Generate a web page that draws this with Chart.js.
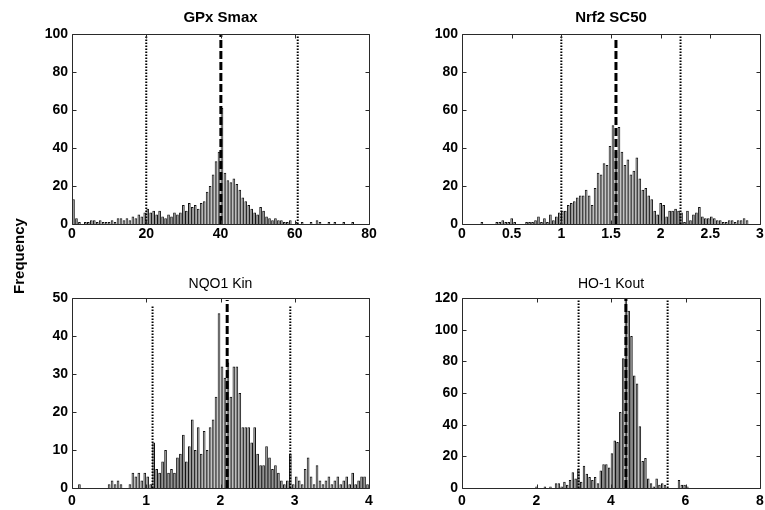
<!DOCTYPE html>
<html>
<head>
<meta charset="utf-8">
<script src="https://cdn.jsdelivr.net/npm/chart.js@4.4.0/dist/chart.umd.min.js"></script>
<style>
  body { margin: 0; background: #fff; }
  #wrap { position: relative; width: 765px; height: 510px; overflow: hidden; }
  canvas { position: absolute; }
  #ylab {
    position: absolute; left: -30px; top: 246px; width: 100px; height: 20px;
    line-height: 20px; text-align: center; transform: rotate(-90deg);
    font: bold 15px "Liberation Sans", Arial, sans-serif; color: #000;
  }
</style>
</head>
<body>
<div id="wrap">
  <canvas id="gpx" width="382" height="255" style="left:0;top:0"></canvas>
  <canvas id="nrf2" width="383" height="255" style="left:382px;top:0"></canvas>
  <canvas id="nqo1" width="382" height="255" style="left:0;top:255px"></canvas>
  <canvas id="ho1" width="383" height="255" style="left:382px;top:255px"></canvas>
  <div id="ylab">Frequency</div>
</div>
<script>
// GPx Smax histogram
const gpxBins = [
  0.4, 1.2, 2, 2.8, 3.6, 4.4, 5.2, 6, 6.8, 7.6,
  8.4, 9.2, 10, 10.8, 11.6, 12.4, 13.2, 14, 14.8, 15.6,
  16.4, 17.2, 18, 18.8, 19.6, 20.4, 21.2, 22, 22.8, 23.6,
  24.4, 25.2, 26, 26.8, 27.6, 28.4, 29.2, 30, 30.8, 31.6,
  32.4, 33.2, 34, 34.8, 35.6, 36.4, 37.2, 38, 38.8, 39.6,
  40.4, 41.2, 42, 42.8, 43.6, 44.4, 45.2, 46, 46.8, 47.6,
  48.4, 49.2, 50, 50.8, 51.6, 52.4, 53.2, 54, 54.8, 55.6,
  56.4, 57.2, 58, 58.8, 59.6, 60.4, 61.2, 62, 62.8, 63.6,
  64.4, 65.2, 66, 66.8, 67.6, 68.4, 69.2, 70, 70.8, 71.6,
  72.4, 73.2, 74, 74.8, 75.6, 76.4, 77.2, 78, 78.8, 79.6
];
const gpxCounts = [
  13, 3, 1, 0, 1, 1, 2, 2, 1, 2,
  1, 1, 1, 2, 1, 3, 3, 2, 3, 2,
  4, 3, 5, 4, 6, 8, 6, 7, 5, 7,
  4, 3, 5, 4, 6, 5, 6, 10, 7, 11,
  9, 10, 8, 11, 12, 17, 20, 26, 33, 38,
  61, 27, 23, 22, 24, 21, 18, 14, 12, 10,
  8, 6, 5, 9, 7, 4, 3, 2, 3, 2,
  2, 1, 1, 2, 0, 1, 0, 1, 0, 0,
  1, 0, 2, 1, 0, 0, 1, 0, 1, 0,
  0, 1, 0, 0, 1, 0, 0, 0, 0, 0
];
const gpxXTicks = [0, 20, 40, 60, 80];
const gpxYTicks = [0, 20, 40, 60, 80, 100];
const gpxMedian = 40.1;
const gpxBounds = [20, 60.8];

// Nrf2 SC50 histogram
const nrf2Bins = [
  0.02, 0.05, 0.08, 0.11, 0.14, 0.17, 0.2, 0.23, 0.26, 0.29,
  0.32, 0.35, 0.38, 0.41, 0.44, 0.47, 0.5, 0.53, 0.56, 0.59,
  0.62, 0.65, 0.68, 0.71, 0.74, 0.77, 0.8, 0.83, 0.86, 0.89,
  0.92, 0.95, 0.98, 1.01, 1.04, 1.07, 1.1, 1.13, 1.16, 1.19,
  1.22, 1.25, 1.28, 1.31, 1.34, 1.37, 1.4, 1.43, 1.46, 1.49,
  1.52, 1.55, 1.58, 1.61, 1.64, 1.67, 1.7, 1.73, 1.76, 1.79,
  1.82, 1.85, 1.88, 1.91, 1.94, 1.97, 2, 2.03, 2.06, 2.09,
  2.12, 2.15, 2.18, 2.21, 2.24, 2.27, 2.3, 2.33, 2.36, 2.39,
  2.42, 2.45, 2.48, 2.51, 2.54, 2.57, 2.6, 2.63, 2.66, 2.69,
  2.72, 2.75, 2.78, 2.81, 2.84, 2.87, 2.9, 2.93, 2.96, 2.99
];
const nrf2Counts = [
  0, 0, 0, 0, 0, 0, 1, 0, 0, 0,
  0, 1, 1, 2, 1, 1, 3, 1, 0, 0,
  0, 1, 1, 1, 2, 4, 1, 3, 1, 5,
  2, 4, 6, 7, 7, 10, 11, 12, 14, 15,
  15, 18, 15, 10, 19, 27, 26, 32, 31, 41,
  52, 38, 51, 38, 31, 34, 26, 28, 35, 24,
  18, 19, 15, 13, 7, 5, 11, 10, 4, 7,
  7, 8, 7, 6, 1, 7, 2, 5, 6, 9,
  4, 3, 3, 4, 3, 2, 2, 1, 1, 2,
  2, 1, 2, 2, 3, 2, 0, 0, 0, 0
];
const nrf2XTicks = [0, 0.5, 1, 1.5, 2, 2.5, 3];
const nrf2YTicks = [0, 20, 40, 60, 80, 100];
const nrf2Median = 1.55;
const nrf2Bounds = [1.0, 2.2];

// NQO1 Kin histogram
const nqo1Bins = [
  0.02, 0.06, 0.1, 0.14, 0.18, 0.22, 0.26, 0.3, 0.34, 0.38,
  0.42, 0.46, 0.5, 0.54, 0.58, 0.62, 0.66, 0.7, 0.74, 0.78,
  0.82, 0.86, 0.9, 0.94, 0.98, 1.02, 1.06, 1.1, 1.14, 1.18,
  1.22, 1.26, 1.3, 1.34, 1.38, 1.42, 1.46, 1.5, 1.54, 1.58,
  1.62, 1.66, 1.7, 1.74, 1.78, 1.82, 1.86, 1.9, 1.94, 1.98,
  2.02, 2.06, 2.1, 2.14, 2.18, 2.22, 2.26, 2.3, 2.34, 2.38,
  2.42, 2.46, 2.5, 2.54, 2.58, 2.62, 2.66, 2.7, 2.74, 2.78,
  2.82, 2.86, 2.9, 2.94, 2.98, 3.02, 3.06, 3.1, 3.14, 3.18,
  3.22, 3.26, 3.3, 3.34, 3.38, 3.42, 3.46, 3.5, 3.54, 3.58,
  3.62, 3.66, 3.7, 3.74, 3.78, 3.82, 3.86, 3.9, 3.94, 3.98
];
const nqo1Counts = [
  0, 0, 1, 0, 0, 0, 0, 0, 0, 0,
  0, 0, 1, 2, 1, 2, 1, 0, 0, 1,
  4, 3, 4, 2, 4, 3, 1, 12, 5, 4,
  7, 10, 4, 5, 4, 8, 9, 14, 7, 11,
  18, 10, 16, 9, 15, 10, 16, 18, 24, 46,
  32, 29, 33, 24, 32, 32, 25, 16, 16, 16,
  12, 16, 9, 6, 6, 11, 8, 5, 6, 4,
  2, 1, 2, 9, 1, 3, 2, 1, 5, 8,
  3, 1, 6, 2, 1, 2, 3, 1, 2, 3,
  1, 2, 3, 1, 4, 1, 2, 3, 3, 1
];
const nqo1XTicks = [0, 1, 2, 3, 4];
const nqo1YTicks = [0, 10, 20, 30, 40, 50];
const nqo1Median = 2.09;
const nqo1Bounds = [1.085, 2.94];

// HO-1 Kout histogram
const ho1Bins = [
  2.0, 2.075, 2.15, 2.225, 2.3, 2.375, 2.45, 2.525, 2.6, 2.675,
  2.75, 2.825, 2.9, 2.975, 3.05, 3.125, 3.2, 3.275, 3.35, 3.425,
  3.5, 3.575, 3.65, 3.725, 3.8, 3.875, 3.95, 4.025, 4.1, 4.175,
  4.25, 4.325, 4.4, 4.475, 4.55, 4.625, 4.7, 4.775, 4.85, 4.925,
  5.0, 5.075, 5.15, 5.225, 5.3, 5.375, 5.45, 5.525, 5.6, 5.675,
  5.75, 5.825, 5.9, 5.975, 6.05
];
const ho1Counts = [
  1, 0, 0, 1, 0, 1, 0, 3, 3, 1,
  4, 2, 5, 10, 6, 12, 4, 14, 9, 7,
  5, 7, 3, 11, 15, 15, 13, 22, 30, 29,
  48, 82, 120, 112, 96, 71, 66, 39, 17, 19,
  6, 3, 1, 6, 2, 3, 2, 0, 0, 0,
  0, 5, 2, 2, 1
];
const ho1XTicks = [0, 2, 4, 6, 8];
const ho1YTicks = [0, 20, 40, 60, 80, 100, 120];
const ho1Median = 4.4;
const ho1Bounds = [3.13, 5.52];

Chart.defaults.font.family = '"Liberation Sans", Arial, sans-serif';
Chart.defaults.color = '#000';

// frame round the plot area, with MATLAB-style inward tick marks
const frameTicks = {
  id: 'frameTicks',
  afterDraw(chart) {
    const { ctx, chartArea: a, scales: { x, y } } = chart;
    const L = Math.round(a.left) + 0.5, R = Math.round(a.right) + 0.5;
    const T = Math.round(a.top) + 0.5, B = Math.round(a.bottom) + 0.5;
    ctx.save();
    ctx.strokeStyle = '#2a2a2a';
    ctx.lineWidth = 1;
    ctx.beginPath();
    x.ticks.forEach(t => {
      const px = Math.round(x.getPixelForValue(t.value)) + 0.5;
      ctx.moveTo(px, B); ctx.lineTo(px, B - 4);
      ctx.moveTo(px, T); ctx.lineTo(px, T + 4);
    });
    y.ticks.forEach(t => {
      const py = Math.round(y.getPixelForValue(t.value)) + 0.5;
      ctx.moveTo(L, py); ctx.lineTo(L + 4, py);
      ctx.moveTo(R, py); ctx.lineTo(R - 4, py);
    });
    ctx.rect(L, T, R - L, B - T);
    ctx.stroke();
    ctx.restore();
  }
};

function refLine(v, top, dash, width) {
  return {
    type: 'line',
    data: [{ x: v, y: 0 }, { x: v, y: top }],
    borderColor: '#000',
    borderWidth: width,
    borderDash: dash,
    pointRadius: 0,
    fill: false,
    order: 0
  };
}

function drawHist(id, o) {
  const bars = o.bins.map((b, i) => ({ x: b, y: o.counts[i] }));
  new Chart(document.getElementById(id), {
    type: 'bar',
    data: {
      datasets: [
        {
          type: 'bar',
          data: bars,
          backgroundColor: '#858585',
          borderColor: '#111',
          borderWidth: 1,
          barPercentage: 1,
          categoryPercentage: 0.9,
          order: 2
        },
        refLine(o.bounds[0], o.boundTop, [1.5, 1.5], 2),
        refLine(o.bounds[1], o.boundTop, [1.5, 1.5], 2),
        refLine(o.median, o.medianTop, [8, 3], 3)
      ]
    },
    options: {
      responsive: false,
      animation: false,
      devicePixelRatio: 1,
      layout: { padding: { left: 0, right: o.padRight, top: 0, bottom: 0 } },
      plugins: {
        legend: { display: false },
        tooltip: { enabled: false },
        title: {
          display: true,
          text: o.title,
          fullSize: false,
          color: '#000',
          font: { size: o.titleSize, weight: o.titleWeight, lineHeight: 1 },
          padding: { top: o.titleTop, bottom: o.titleBottom }
        }
      },
      scales: {
        x: {
          type: 'linear',
          min: o.xTicks[0],
          max: o.xTicks[o.xTicks.length - 1],
          offset: false,
          grid: { display: false, drawTicks: false },
          border: { display: false },
          ticks: {
            font: { size: 14, weight: 'bold' }, padding: o.xPad, maxRotation: 0, autoSkip: false,
            callback: v => String(v)
          },
          afterBuildTicks: s => { s.ticks = o.xTicks.map(v => ({ value: v })); },
          afterFit: s => { s.height = o.xAxisH; s.paddingLeft = 0; s.paddingRight = 0; }
        },
        y: {
          min: o.yTicks[0],
          max: o.yTicks[o.yTicks.length - 1],
          grid: { display: false, drawTicks: false },
          border: { display: false },
          ticks: { font: { size: 14, weight: 'bold' }, padding: 4, callback: v => String(v) },
          afterBuildTicks: s => { s.ticks = o.yTicks.map(v => ({ value: v })); },
          afterFit: s => { s.width = o.yAxisW; s.paddingTop = 0; s.paddingBottom = 0; }
        }
      }
    },
    plugins: [frameTicks]
  });
}

drawHist('gpx', {
  title: 'GPx Smax', titleSize: 15, titleWeight: 'bold', titleTop: 10, titleBottom: 9,
  bins: gpxBins, counts: gpxCounts, xTicks: gpxXTicks, yTicks: gpxYTicks,
  median: gpxMedian, medianTop: 100, bounds: gpxBounds, boundTop: 99,
  yAxisW: 72, xAxisH: 31, padRight: 13, xPad: 2
});
drawHist('nrf2', {
  title: 'Nrf2 SC50', titleSize: 15, titleWeight: 'bold', titleTop: 10, titleBottom: 9,
  bins: nrf2Bins, counts: nrf2Counts, xTicks: nrf2XTicks, yTicks: nrf2YTicks,
  median: nrf2Median, medianTop: 98, bounds: nrf2Bounds, boundTop: 100,
  yAxisW: 80, xAxisH: 31, padRight: 5, xPad: 2
});
drawHist('nqo1', {
  title: 'NQO1 Kin', titleSize: 14, titleWeight: 'normal', titleTop: 22, titleBottom: 7,
  bins: nqo1Bins, counts: nqo1Counts, xTicks: nqo1XTicks, yTicks: nqo1YTicks,
  median: nqo1Median, medianTop: 49.5, bounds: nqo1Bounds, boundTop: 48,
  yAxisW: 72, xAxisH: 22, padRight: 13, xPad: 5
});
drawHist('ho1', {
  title: 'HO-1 Kout', titleSize: 14, titleWeight: 'normal', titleTop: 22, titleBottom: 7,
  bins: ho1Bins, counts: ho1Counts, xTicks: ho1XTicks, yTicks: ho1YTicks,
  median: ho1Median, medianTop: 120, bounds: ho1Bounds, boundTop: 120,
  yAxisW: 80, xAxisH: 22, padRight: 5, xPad: 5
});
</script>
</body>
</html>
